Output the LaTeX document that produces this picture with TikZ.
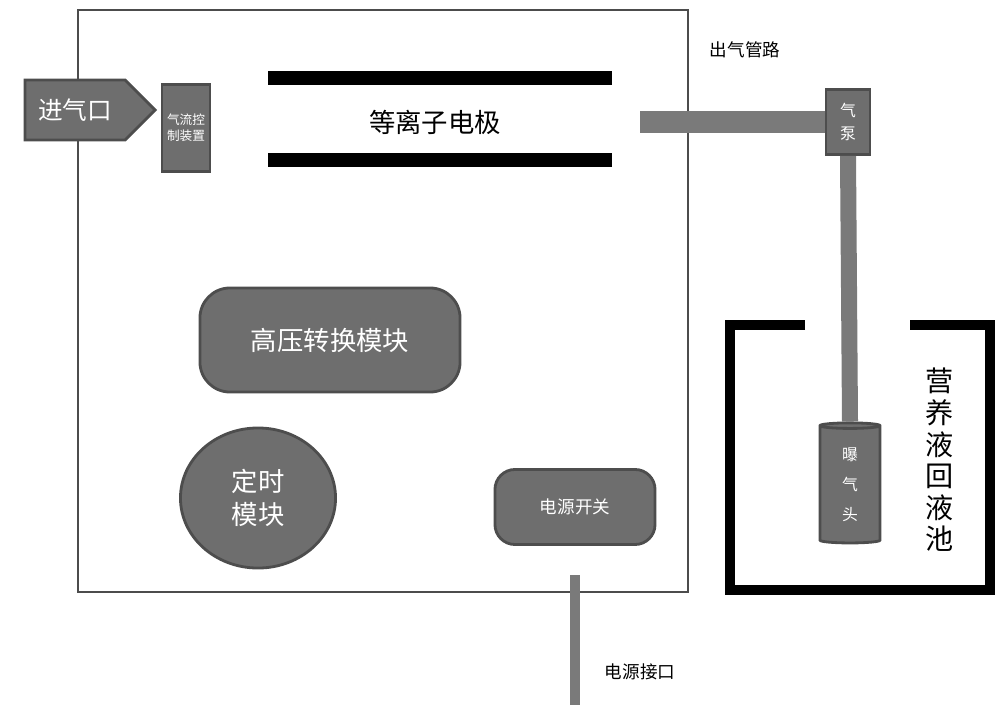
\documentclass[tikz,border=0pt]{standalone}
\usepackage{fontspec}
\setmainfont{Noto Sans CJK SC}
\usetikzlibrary{shapes.geometric,shapes.symbols}
\definecolor{boxgray}{HTML}{6E6E6E}
\definecolor{pipegray}{HTML}{7A7A7A}
\newcommand{\fs}[1]{\fontsize{#1}{#1}\selectfont}
\tikzset{
  part/.style={fill=boxgray, draw=boxgray!70!black, thick, text=white},
  pipe/.style={draw=pipegray, line width=2.2mm},
  electrode/.style={line width=1.4mm, black}
}
\begin{document}
\begin{tikzpicture}[x=0.01cm,y=-0.01cm]
\useasboundingbox (0,0) rectangle (1000,718);
% main housing
\draw[thick, black!70] (78,10) rectangle (688,592);
% inlet
\node[part, signal, signal to=east, minimum width=1.3cm, minimum height=0.6cm, font=\fs{7}, inner sep=1pt] (inlet) at (75,110) {进气口};
\node[part, minimum width=0.48cm, minimum height=0.87cm, inner sep=0pt, align=center, font=\fs{3.6}] (flow) at (186,128) {气流控\\[1pt]制装置};
% electrodes
\draw[electrode] (268,78) -- (612,78);
\draw[electrode] (268,160) -- (612,160);
\node[font=\fs{7.5}] (plasma) at (435,122) {等离子电极};
% outlet pipe and pump
\coordinate (out) at (640,122);
\node[part, minimum width=0.44cm, minimum height=0.65cm, inner sep=0pt, align=center, font=\fs{4.5}] (pump) at (848,122) {气\\[2pt]泵};
\draw[pipe] (out) -- (pump.west);
\node[font=\fs{5}] (outlbl) at (745,50) {出气管路};
\node[part, cylinder, shape border rotate=90, aspect=0.35, minimum width=0.6cm, minimum height=1.2cm, inner sep=0pt, align=center, font=\fs{4.5}] (aerator) at (850,485) {曝\\[4pt]气\\[4pt]头};
\draw[pipe, line width=1.6mm] (pump.south) -- (aerator.top);
% tank
\draw[line width=1mm] (805,325) -- (730,325) -- (730,590) -- (990,590) -- (990,325) -- (910,325);
\node[font=\fs{8}, align=center, inner sep=0pt] (tank) at (940,460) {营\\[1pt]养\\[1pt]液\\[1pt]回\\[1pt]液\\[1pt]池};
% modules
\node[part, rounded corners=0.3cm, minimum width=2.6cm, minimum height=1.04cm, font=\fs{7.5}] (hv) at (330,340) {高压转换模块};
\node[part, ellipse, minimum width=1.55cm, minimum height=1.4cm, align=center, font=\fs{7.5}, inner sep=0pt] (timer) at (258,498) {定时\\[2pt]模块};
\node[part, rounded corners=0.2cm, minimum width=1.6cm, minimum height=0.75cm, font=\fs{5}] (switch) at (575,507) {电源开关};
% power cable
\coordinate (cableend) at (575,705);
\draw[pipegray, line width=1mm] (575,575) -- (cableend);
\node[font=\fs{5}] (powerlbl) at (640,672) {电源接口};
\end{tikzpicture}
\end{document}
